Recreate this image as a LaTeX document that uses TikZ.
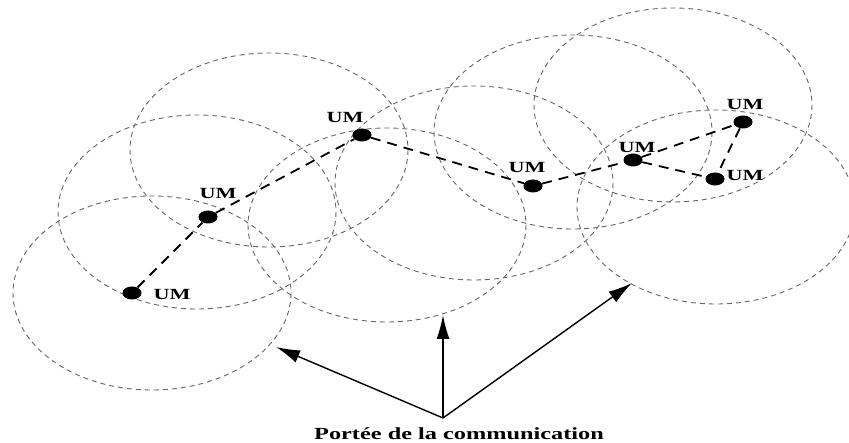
\documentclass[tikz,border=0pt]{standalone}
\usepackage{fontspec}
\setmainfont{Liberation Serif}
\usetikzlibrary{arrows.meta,shapes.geometric}
\begin{document}
\begin{tikzpicture}[x=1pt,y=-1pt,
  coverage/.style={draw=black!60, line width=0.9pt, dash pattern=on 5pt off 4pt},
  mobile/.style={ellipse, fill=black, minimum width=19pt, minimum height=13pt, inner sep=0pt},
  link/.style={draw=black, line width=1.8pt, dash pattern=on 10pt off 7pt},
  tag/.style={font=\bfseries\fontsize{15.5}{16}\selectfont, inner sep=0pt},
  pointer/.style={-{Latex[length=24pt,width=13pt]}, line width=1.4pt}
]
\useasboundingbox (0,0) rectangle (849,443);

% communication ranges
\foreach \cx/\cy in {152/293,197/212,269/150,387/225,474/183,573/132,673/105,716/207}
  \draw[coverage] (\cx,\cy) ellipse [x radius=139, y radius=97];

% mobile units
\node[mobile] (m1) at (132,293) {};
\node[mobile] (m2) at (208,217) {};
\node[mobile] (m3) at (362,135) {};
\node[mobile] (m4) at (533,186) {};
\node[mobile] (m5) at (633,160) {};
\node[mobile] (m6) at (743,122) {};
\node[mobile] (m7) at (715,179) {};

\node[tag] (l1) at (172,294) {\scalebox{1.43}[1]{UM}};
\node[tag] (l2) at (218,193) {\scalebox{1.43}[1]{UM}};
\node[tag] (l3) at (345,118) {\scalebox{1.43}[1]{UM}};
\node[tag] (l4) at (527,168) {\scalebox{1.43}[1]{UM}};
\node[tag] (l5) at (637,148) {\scalebox{1.43}[1]{UM}};
\node[tag] (l6) at (745,105) {\scalebox{1.43}[1]{UM}};
\node[tag] (l7) at (745,175) {\scalebox{1.43}[1]{UM}};

% multi-hop links
\draw[link] (m1) -- (m2);
\draw[link] (m2) -- (m3);
\draw[link] (m3) -- (m4);
\draw[link] (m4) -- (m5);
\draw[link] (m5) -- (m6);
\draw[link] (m5) -- (m7);
\draw[link] (m6) -- (m7);

% caption and pointers
\coordinate (base) at (443,418);
\coordinate (t1) at (276,347);
\coordinate (t2) at (443,315);
\coordinate (t3) at (632,283);
\draw[pointer] (base) -- (t1);
\draw[pointer] (base) -- (t2);
\draw[pointer] (base) -- (t3);

\node[font=\bfseries\fontsize{17}{18}\selectfont, inner sep=0pt, anchor=base] (cap) at (459,439)
  {\scalebox{1.43}[1]{Portée de la communication}};
\end{tikzpicture}
\end{document}
